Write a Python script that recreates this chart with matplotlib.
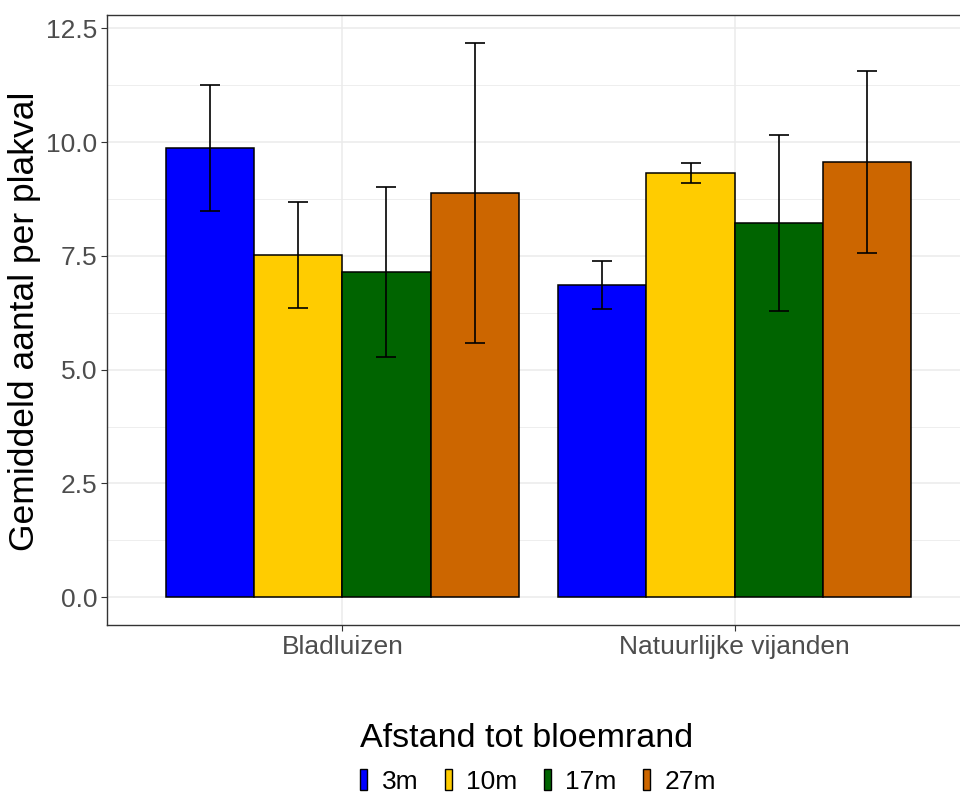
import numpy as np
import matplotlib.pyplot as plt
from matplotlib.patches import Patch

plt.rcParams["font.family"] = ["Liberation Sans", "DejaVu Sans"]

# Data
groups = ["Bladluizen", "Natuurlijke vijanden"]
distances = ["3m", "10m", "17m", "27m"]
colors = ["#0000FF", "#FFCC00", "#006400", "#CC6600"]

mean_bladluizen = [9.87, 7.52, 7.15, 8.88]
se_bladluizen = [1.39, 1.17, 1.87, 3.29]
mean_vijanden = [6.86, 9.32, 8.22, 9.56]
se_vijanden = [0.53, 0.21, 1.93, 1.99]

y_ticks = [0.0, 2.5, 5.0, 7.5, 10.0, 12.5]
y_minor = [1.25, 3.75, 6.25, 8.75, 11.25]

means = np.array([mean_bladluizen, mean_vijanden])
ses = np.array([se_bladluizen, se_vijanden])

fig = plt.figure(figsize=(9.6, 7.96), dpi=100)
# panel runs past the right edge, as in the cropped reference
ax = fig.add_axes([107 / 960, 1 - 625 / 796, 863 / 960, 610 / 796])

xpos = np.arange(1, len(groups) + 1)
bar_w = 0.9 / len(distances)
offsets = (np.arange(len(distances)) - 1.5) * bar_w

for j, (dist, col) in enumerate(zip(distances, colors)):
    x = xpos + offsets[j]
    ax.bar(x, means[:, j], width=bar_w, color=col, edgecolor="black",
           linewidth=1.1, zorder=2)
    ax.errorbar(x, means[:, j], yerr=ses[:, j], fmt="none", ecolor="black",
                elinewidth=1.2, capsize=7.0, capthick=1.2, zorder=3)

ax.set_xlim(0.4, 2.6)
ax.set_ylim(-0.61, 12.79)
ax.set_xticks(xpos)
ax.set_xticklabels(groups)
ax.set_yticks(y_ticks)
ax.set_yticklabels(["%.1f" % v for v in y_ticks])
ax.set_yticks(y_minor, minor=True)

ax.grid(True, which="major", color="#EBEBEB", linewidth=1.1, zorder=0)
ax.grid(True, which="minor", axis="y", color="#EBEBEB", linewidth=0.6, zorder=0)
ax.set_axisbelow(True)

for s in ax.spines.values():
    s.set_color("#333333")
    s.set_linewidth(1.0)

ax.tick_params(axis="both", which="major", length=4, width=0.8, color="#333333",
               labelsize=19, labelcolor="#4D4D4D", pad=3)
ax.tick_params(axis="y", which="minor", length=0)

fig.text(25 / 960, 1 - 321 / 796, "Gemiddeld aantal per plakval", fontsize=25.5,
         color="black", rotation=90, ha="center", va="center")

handles = [Patch(facecolor=c, edgecolor="black", linewidth=1.0) for c in colors]
leg = fig.legend(handles, distances, loc="lower center", bbox_to_anchor=(538 / 960, 0.003),
                 ncol=4, frameon=False, fontsize=19, title="Afstand tot bloemrand",
                 title_fontsize=24.5, handlelength=0.26, handleheight=0.8,
                 handletextpad=0.55, columnspacing=1.0, alignment="left",
                 borderaxespad=0.0, borderpad=0.0, labelspacing=0.6)

fig.savefig("out.png", dpi=100)
